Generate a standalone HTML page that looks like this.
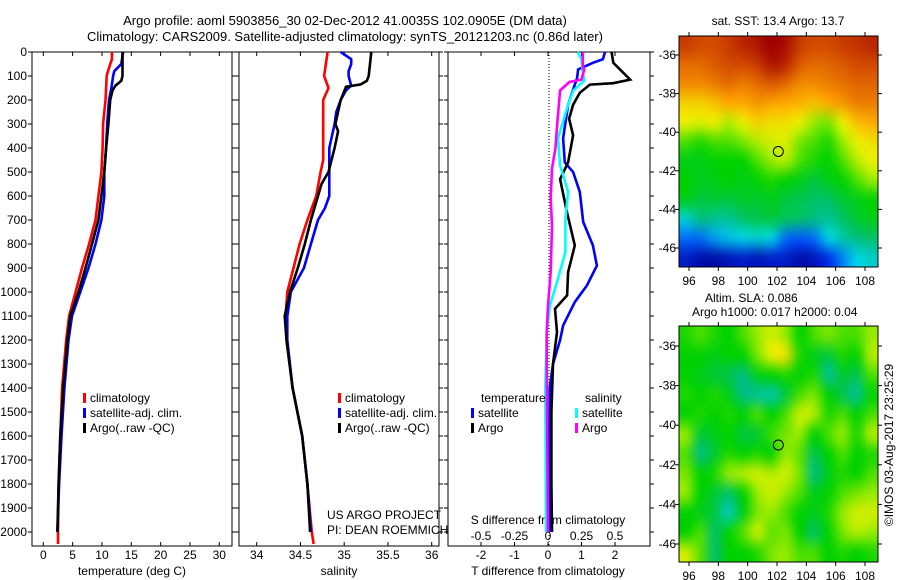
<!DOCTYPE html>
<html><head><meta charset="utf-8">
<style>
html,body{margin:0;padding:0;background:#fff;}
svg{display:block;font-family:"Liberation Sans",sans-serif;}
text{font-size:12px;fill:#000;}
</style></head>
<body>
<svg id="fig" width="900" height="580" viewBox="0 0 900 580">
<text x="345" y="25" text-anchor="middle" style="font-size:13px">Argo profile: aoml 5903856_30 02-Dec-2012 41.0035S 102.0905E (DM data)</text>
<text x="345" y="41" text-anchor="middle" style="font-size:13px">Climatology: CARS2009. Satellite-adjusted climatology: synTS_20121203.nc (0.86d later)</text>
<text x="778" y="25" text-anchor="middle">sat. SST: 13.4 Argo: 13.7</text>
<text x="705" y="302">Altim. SLA: 0.086</text>
<text x="692" y="316">Argo h1000: 0.017 h2000: 0.04</text>
<text x="0" y="0" transform="translate(893,445) rotate(-90)" text-anchor="middle">©IMOS 03-Aug-2017 23:25:29</text>
<text x="327" y="519">US ARGO PROJECT</text>
<text x="327" y="534">PI: DEAN ROEMMICH</text>
<g id="layer"></g>
</svg>
<canvas id="c1" width="14" height="12" style="display:none"></canvas>
<canvas id="c2" width="14" height="12" style="display:none"></canvas>
<script>
// ---- profile data ----
const tempRedDepth=[0,30,90,100,150,200,300,400,500,600,700,800,900,1000,1100,1200,1400,1600,1800,2000,2050];
const tempRed=[11.7,11.7,10.9,10.8,10.7,10.6,10.2,10.1,9.9,9.4,8.9,7.8,6.6,5.5,4.4,3.9,3.2,2.9,2.6,2.5,2.5];
const tempBlueDepth=[0,50,80,100,150,200,300,400,500,600,700,800,900,1000,1100,1200,1400,1600,1800,2000];
const tempBlue=[13.6,13.3,12.1,11.9,11.6,11.2,10.9,10.7,10.4,10.4,9.9,8.9,7.7,6.3,4.9,4.3,3.6,3.1,2.7,2.4];
const tempArgoDepth=[0,100,120,140,160,200,300,400,500,600,700,800,900,1000,1100,1200,1400,1600,1800,2000];
const tempArgo=[13.5,13.5,13.3,12.3,11.8,11.4,11.1,10.7,10.4,9.9,9.4,8.3,7.2,6.0,4.6,4.1,3.4,2.9,2.6,2.4];
const salRedDepth=[0,100,150,200,300,450,500,600,700,800,900,1000,1100,1200,1400,1600,1800,2000,2050];
const salRed=[34.81,34.77,34.82,34.76,34.76,34.76,34.73,34.68,34.58,34.49,34.42,34.35,34.33,34.34,34.41,34.52,34.58,34.63,34.65];
const salBlueDepth=[0,30,50,80,100,140,160,200,250,300,400,500,600,650,700,800,900,1000,1100,1200,1400,1600,1800,2000];
const salBlue=[34.96,35.08,35.08,35.05,35.05,35.08,35.02,34.96,34.91,34.89,34.83,34.83,34.83,34.78,34.7,34.62,34.54,34.39,34.35,34.35,34.41,34.52,34.58,34.62];
const salArgoDepth=[0,100,120,135,145,200,300,330,400,500,550,600,700,800,900,1000,1100,1200,1400,1600,1800,2000];
const salArgo=[35.31,35.28,35.26,35.19,35.02,34.96,34.9,34.93,34.89,34.82,34.74,34.7,34.62,34.55,34.47,34.38,34.32,34.34,34.41,34.52,34.58,34.61];
const dTsatDepth=[0,30,45,73,108,136,220,360,460,500,583,708,806,890,973,1042,1140,1200,1300,1400,1600,2000];
const dTsat=[1.7,1.64,1.34,0.9,0.87,0.8,0.6,0.45,0.5,0.75,0.95,1.05,1.34,1.46,1.16,0.8,0.45,0.36,0.15,0.05,0.05,0.05];
const dTargoDepth=[0,45,115,130,136,170,220,278,347,460,530,670,806,917,1014,1070,1167,1300,1500,1800,2000];
const dTargo=[1.9,1.95,2.45,1.95,1.25,0.95,0.75,0.63,0.75,0.6,0.36,0.57,0.8,0.6,0.57,0.21,0.27,0.15,0.1,0.1,0.12];
const dSsatDepth=[0,30,80,120,160,220,360,472,583,694,833,944,1056,1167,1400,2000];
const dSsat=[0.22,0.25,0.26,0.27,0.19,0.15,0.075,0.09,0.15,0.13,0.13,0.075,0.015,-0.01,-0.02,-0.015];
const dSargoDepth=[0,60,73,115,125,160,290,402,485,611,722,917,1056,1167,1300,2000];
const dSargo=[0.26,0.26,0.27,0.25,0.16,0.09,0.07,0.055,0.03,0.02,0.03,0.02,0.0,-0.01,-0.01,0.0];
const depthTicks=[0,100,200,300,400,500,600,700,800,900,1000,1100,1200,1300,1400,1500,1600,1700,1800,1900,2000];
const tempTicks=[0,5,10,15,20,25,30];
const salTicks=[34,34.5,35,35.5,36];
const dTTicks=[-2,-1,0,1,2];
const dSTicks=[-0.5,-0.25,0,0.25,0.5];
// ---- map data (rows north->south, cols west->east) ----
const sstGrid=[
[0.92,0.9,0.9,0.92,0.95,0.97,1,0.98,0.92,0.9,0.9,0.92,0.93,0.95],
[0.85,0.85,0.88,0.9,0.9,0.92,0.97,0.95,0.88,0.85,0.86,0.88,0.9,0.9],
[0.8,0.8,0.82,0.85,0.82,0.85,0.88,0.85,0.8,0.8,0.82,0.84,0.86,0.86],
[0.7,0.7,0.72,0.75,0.75,0.78,0.76,0.75,0.74,0.72,0.75,0.78,0.82,0.82],
[0.66,0.65,0.66,0.62,0.66,0.7,0.68,0.68,0.66,0.6,0.58,0.66,0.72,0.75],
[0.55,0.52,0.55,0.55,0.58,0.62,0.64,0.65,0.58,0.55,0.52,0.6,0.66,0.68],
[0.48,0.48,0.5,0.5,0.5,0.55,0.6,0.62,0.55,0.52,0.5,0.55,0.62,0.66],
[0.5,0.48,0.48,0.5,0.48,0.5,0.52,0.5,0.48,0.45,0.48,0.5,0.55,0.6],
[0.48,0.45,0.46,0.45,0.47,0.46,0.48,0.45,0.44,0.42,0.42,0.46,0.48,0.5],
[0.32,0.4,0.38,0.38,0.42,0.44,0.45,0.43,0.42,0.4,0.38,0.42,0.46,0.48],
[0.2,0.2,0.25,0.28,0.3,0.32,0.3,0.2,0.18,0.2,0.3,0.36,0.4,0.42],
[0.08,0.04,0.04,0.06,0.08,0.06,0.08,0.08,0.04,0.06,0.12,0.22,0.3,0.33]];
const slaGrid=[
[0.52,0.55,0.52,0.5,0.55,0.6,0.64,0.6,0.5,0.55,0.58,0.55,0.55,0.6],
[0.5,0.5,0.48,0.5,0.5,0.58,0.66,0.68,0.52,0.48,0.45,0.52,0.5,0.62],
[0.5,0.48,0.46,0.44,0.4,0.48,0.5,0.52,0.5,0.52,0.38,0.46,0.44,0.55],
[0.52,0.5,0.52,0.48,0.4,0.38,0.36,0.45,0.55,0.58,0.5,0.44,0.38,0.5],
[0.5,0.52,0.5,0.52,0.5,0.55,0.5,0.55,0.64,0.62,0.52,0.55,0.5,0.55],
[0.6,0.46,0.48,0.5,0.45,0.46,0.54,0.58,0.6,0.5,0.55,0.6,0.52,0.62],
[0.55,0.4,0.46,0.52,0.5,0.52,0.5,0.6,0.56,0.44,0.5,0.55,0.5,0.52],
[0.58,0.5,0.52,0.6,0.62,0.64,0.62,0.64,0.58,0.4,0.48,0.52,0.5,0.55],
[0.6,0.5,0.46,0.42,0.5,0.6,0.64,0.6,0.55,0.48,0.5,0.55,0.58,0.6],
[0.5,0.48,0.45,0.34,0.48,0.58,0.6,0.55,0.5,0.48,0.52,0.6,0.64,0.64],
[0.5,0.55,0.42,0.5,0.56,0.64,0.56,0.58,0.5,0.42,0.5,0.58,0.62,0.6],
[0.64,0.56,0.42,0.5,0.5,0.52,0.58,0.6,0.55,0.55,0.5,0.52,0.5,0.52]];
const lonTicks=[96,98,100,102,104,106,108];
const latTicks=[-36,-38,-40,-42,-44,-46];
const floatLon=102.09, floatLat=-41.0;

const NS='http://www.w3.org/2000/svg';
const layer=document.getElementById('layer');
function mk(tag,attrs,parent){const e=document.createElementNS(NS,tag);for(const k in attrs)e.setAttribute(k,attrs[k]);(parent||layer).appendChild(e);return e;}
function lin(d0,d1,r0,r1){return v=>r0+(v-d0)*(r1-r0)/(d1-d0);}

const TOP=52, BOT=546;
const yDepth=lin(0,2000,52,532);
const xTemp=lin(0,30,43.3,219.3);
const xSal=lin(34,36,256.7,431.7);
const xDT=lin(0,2,548,615);
const xDS=lin(0,0.5,548,615);

function panel(name,x0,x1,showDepthLabels){
  const f=mk('rect',{x:x0,y:TOP,width:x1-x0,height:BOT-TOP,fill:'none',stroke:'#000','stroke-width':1});
  
  
  depthTicks.forEach(d=>{
    const y=yDepth(d);
    mk('line',{x1:x0-4,x2:x0,y1:y,y2:y,stroke:'#000'});
    mk('line',{x1:x1,x2:x1+4,y1:y,y2:y,stroke:'#000'});
    if(showDepthLabels){
      const t=mk('text',{x:x0-5,y:y+4,'text-anchor':'end'});t.textContent=d;
      
      
    }
  });
}
function xTicks(vals,sc,yLab,withTicks,name){
  vals.forEach(v=>{
    const x=sc(v);
    if(withTicks){mk('line',{x1:x,x2:x,y1:TOP,y2:TOP+4,stroke:'#000'});mk('line',{x1:x,x2:x,y1:BOT-4,y2:BOT,stroke:'#000'});}
    const t=mk('text',{x:x,y:yLab,'text-anchor':'middle'});t.textContent=v;
    
    
  });
}
function series(name,depths,vals,sc,color){
  const pts=depths.map((d,i)=>sc(vals[i]).toFixed(1)+','+yDepth(d).toFixed(1)).join(' ');
  const p=mk('polyline',{points:pts,fill:'none',stroke:color,'stroke-width':2.6,'stroke-linejoin':'miter'});
  
  
}
function label(txt,x,y,name,anchor){
  const t=mk('text',{x:x,y:y,'text-anchor':anchor||'start'});t.textContent=txt;
  
  
}
function legendItem(txt,x,y,color,name){
  const r=mk('rect',{x:x,y:y-9,width:3,height:10,fill:color});
  
  
  label(txt,x+7,y,name);
}

// Panel 1: temperature
panel('temperature-panel',32,232,true);
xTicks(tempTicks,xTemp,559,true,'temperature-tick-label');
label('temperature (deg C)',132,575,'temperature-axis-title','middle');
series('temperature-climatology-line',tempRedDepth,tempRed,xTemp,'#ff0000');
series('temperature-satellite-line',tempBlueDepth,tempBlue,xTemp,'#0000ff');
series('temperature-argo-line',tempArgoDepth,tempArgo,xTemp,'#000000');
legendItem('climatology',83,402,'#ff0000','legend-climatology');
legendItem('satellite-adj. clim.',83,417,'#0000ff','legend-satellite');
legendItem('Argo(..raw -QC)',83,432,'#000000','legend-argo');

// Panel 2: salinity
panel('salinity-panel',239,439,false);
xTicks(salTicks,xSal,559,true,'salinity-tick-label');
label('salinity',339,575,'salinity-axis-title','middle');
series('salinity-climatology-line',salRedDepth,salRed,xSal,'#ff0000');
series('salinity-satellite-line',salBlueDepth,salBlue,xSal,'#0000ff');
series('salinity-argo-line',salArgoDepth,salArgo,xSal,'#000000');
legendItem('climatology',338,402,'#ff0000','legend-climatology-sal');
legendItem('satellite-adj. clim.',338,417,'#0000ff','legend-satellite-sal');
legendItem('Argo(..raw -QC)',338,432,'#000000','legend-argo-sal');

// Panel 3: differences
panel('difference-panel',448,650,false);
const zl=mk('line',{x1:549,x2:549,y1:TOP,y2:BOT,stroke:'#000','stroke-dasharray':'1,2'});


xTicks(dTTicks,xDT,559,true,'t-diff-tick-label');
xTicks(dSTicks,xDS,540,false,'s-diff-tick-label');
label('S difference from climatology',548,524,'s-diff-axis-title','middle');
label('T difference from climatology',548,575,'t-diff-axis-title','middle');
series('t-diff-satellite-line',dTsatDepth,dTsat,xDT,'#0000ff');
series('t-diff-argo-line',dTargoDepth,dTargo,xDT,'#000000');
series('s-diff-satellite-line',dSsatDepth,dSsat,xDS,'#00ffff');
series('s-diff-argo-line',dSargoDepth,dSargo,xDS,'#ff00ff');
label('temperature',481,402,'legend-temperature-header');
label('salinity',585,402,'legend-salinity-header');
legendItem('satellite',471,417,'#0000ff','legend-t-satellite');
legendItem('Argo',471,432,'#000000','legend-t-argo');
legendItem('satellite',575,417,'#00ffff','legend-s-satellite');
legendItem('Argo',575,432,'#ff00ff','legend-s-argo');

// ---- maps ----
const stops=[[0,[0,0,140]],[0.15,[0,60,255]],[0.3,[0,210,230]],[0.4,[0,190,130]],[0.5,[0,210,0]],[0.6,[150,235,0]],[0.66,[235,240,0]],[0.75,[255,170,0]],[0.88,[220,90,0]],[1,[160,0,0]]];
function cmap(v){
  v=Math.max(0,Math.min(1,v));
  for(let i=1;i<stops.length;i++){if(v<=stops[i][0]){const a=stops[i-1],b=stops[i];const t=(v-a[0])/(b[0]-a[0]);return a[1].map((c,j)=>Math.round(c+(b[1][j]-c)*t));}}
  return stops[stops.length-1][1];
}
function drawMap(name,grid,canvasId,x0,x1,y0,y1,lat36y,lat46y){
  const cv=document.getElementById(canvasId);const ctx=cv.getContext('2d');
  const img=ctx.createImageData(14,12);
  grid.forEach((row,r)=>row.forEach((v,c)=>{const col=cmap(v);const k=(r*14+c)*4;img.data[k]=col[0];img.data[k+1]=col[1];img.data[k+2]=col[2];img.data[k+3]=255;}));
  ctx.putImageData(img,0,0);
  const big=document.createElement('canvas');big.width=x1-x0;big.height=y1-y0;
  const bctx=big.getContext('2d');bctx.imageSmoothingEnabled=true;bctx.imageSmoothingQuality='high';
  bctx.drawImage(cv,0,0,14,12,0,0,big.width,big.height);
  const fo=mk('foreignObject',{x:x0,y:y0,width:x1-x0,height:y1-y0});
  const div=document.createElement('div');
  div.style.cssText='width:'+(x1-x0)+'px;height:'+(y1-y0)+'px;';
  big.style.display='block';
  div.appendChild(big);fo.appendChild(div);
  
  
  const fr=mk('rect',{x:x0,y:y0,width:x1-x0,height:y1-y0,fill:'none',stroke:'#000'});
  
  
  const xLon=lin(96,108,689,865);
  const yLat=lin(-36,-46,lat36y,lat46y);
  lonTicks.forEach(l=>{const x=xLon(l);mk('line',{x1:x,x2:x,y1:y0-4,y2:y0,stroke:'#000'});mk('line',{x1:x,x2:x,y1:y1,y2:y1+4,stroke:'#000'});label(String(l),x,y1+18,name+'-lon-label','middle');});
  latTicks.forEach(l=>{const y=yLat(l);mk('line',{x1:x0-4,x2:x0,y1:y,y2:y,stroke:'#000'});mk('line',{x1:x1,x2:x1+4,y1:y,y2:y,stroke:'#000'});label(String(l),x0-3,y+4,name+'-lat-label','end');});
  const c=mk('circle',{cx:xLon(floatLon),cy:yLat(floatLat),r:5,fill:'none',stroke:'#000','stroke-width':1});
  
  
}
drawMap('sst-map',sstGrid,'c1',679,878,36,267,55,248);
drawMap('sla-map',slaGrid,'c2',679,878,326,562,346,544);
</script>
</body></html>
